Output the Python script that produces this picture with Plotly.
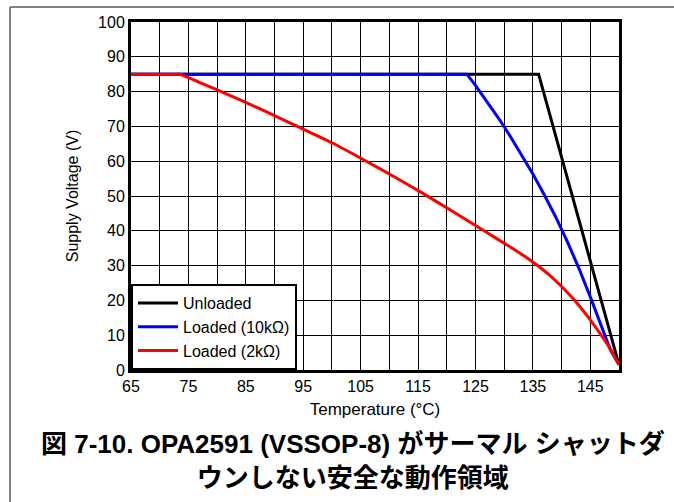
import plotly.graph_objects as go

# Safe operating area: supply voltage vs. temperature
temp_unloaded = [65, 136, 150]
volt_unloaded = [85, 85, 1.5]

temp_10k = [65, 123.5, 125, 127, 129, 131, 133, 135, 137, 139, 141, 143, 145, 147, 148.5, 150]
volt_10k = [85, 85, 81.8, 77.2, 72.4, 67.3, 62, 56.3, 50.3, 43.9, 36.9, 29.3, 21, 12, 5.8, 1.5]

temp_2k = [65, 72.5, 73.5, 77, 81, 85, 90, 94, 100, 106, 111, 116, 121, 126.5, 131, 134, 136,
           138, 140, 142.3, 144.5, 146.9, 148.5, 150]
volt_2k = [85, 85, 85, 82.6, 79.8, 76.9, 73.1, 70, 65.3, 60, 55.4, 50.6, 45.6, 40, 35.4, 32.2, 29.8,
           27.1, 24, 20, 15.5, 10, 6, 1.5]

series_names = ["Unloaded", "Loaded (10kΩ)", "Loaded (2kΩ)"]
series_colors = ["#000000", "#0000ff", "#ff0000"]
series_shapes = ["linear", "linear", "spline"]

x_title = "Temperature (°C)"
y_title = "Supply Voltage (V)"
caption = "図 7-10. OPA2591 (VSSOP-8) がサーマル シャットダ<br>ウンしない安全な動作領域"

W, H = 674, 502
ML, MR, MT, MB = 131, 55, 22, 132
PW, PH = W - ML - MR, H - MT - MB

FONT = "Liberation Sans, Arial, Noto Sans CJK JP, sans-serif"

fig = go.Figure()
for xs, ys, name, col, shp in zip(
    [temp_unloaded, temp_10k, temp_2k],
    [volt_unloaded, volt_10k, volt_2k],
    series_names, series_colors, series_shapes,
):
    line = dict(color=col, width=3, shape=shp)
    if shp == "spline":
        line["smoothing"] = 0.6
    fig.add_trace(go.Scatter(x=xs, y=ys, mode="lines", name=name, line=line))

axis_common = dict(
    showline=True, mirror=True, linecolor="black", linewidth=3,
    showgrid=True, gridcolor="black", gridwidth=1,
    zeroline=False, ticks="", tickfont=dict(size=16, color="black", family=FONT),
)

fig.update_xaxes(range=[65, 150], tick0=65, dtick=10,
                 minor=dict(dtick=5, showgrid=True, gridcolor="black", gridwidth=1),
                 title_text=x_title, title_standoff=9,
                 title_font=dict(size=17, color="black", family=FONT), **axis_common)
fig.update_yaxes(range=[0, 100], tick0=0, dtick=10,
                 title_text=y_title, title_standoff=16,
                 title_font=dict(size=16, color="black", family=FONT), **axis_common)

# outer frame lines (top and left)
def px_x(p):
    return (p - ML) / PW

def px_y(p):
    return (H - MB - p) / PH

frame = dict(color="#808080", width=2)
fig.add_shape(type="line", xref="paper", yref="paper",
              x0=px_x(10), x1=px_x(W), y0=px_y(7), y1=px_y(7), line=frame)
fig.add_shape(type="line", xref="paper", yref="paper",
              x0=px_x(10), x1=px_x(10), y0=px_y(7), y1=px_y(H), line=frame)

fig.add_annotation(text=caption, xref="paper", yref="paper",
                   x=px_x(353), y=px_y(461), xanchor="center", yanchor="middle",
                   showarrow=False, align="center",
                   font=dict(size=26, color="black", family=FONT, weight="bold"))

fig.update_layout(
    width=W, height=H,
    margin=dict(l=ML, r=MR, t=MT, b=MB),
    paper_bgcolor="white", plot_bgcolor="white",
    font=dict(family=FONT, color="black"),
    legend=dict(x=0, y=0, xanchor="left", yanchor="bottom",
                bgcolor="white", bordercolor="black", borderwidth=2,
                font=dict(size=16, color="black", family=FONT),
                itemwidth=40, tracegroupgap=0),
    showlegend=True,
)

fig.write_html("out.html")
